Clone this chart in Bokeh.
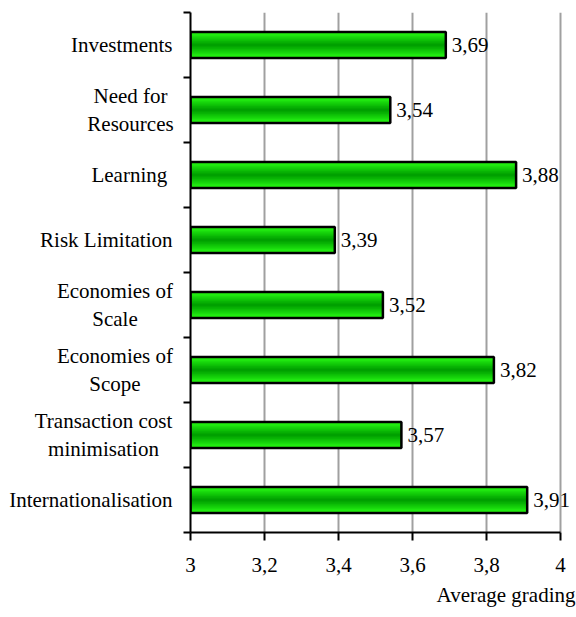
from bokeh.plotting import figure
from bokeh.models import FixedTicker, Label, Range1d, Title
from bokeh.layouts import row
from bokeh.core.properties import value
from bokeh.embed import file_html
from bokeh.resources import INLINE

# data (top to bottom)
categories = [
    "Investments",
    "Need for\nResources",
    "Learning ",
    "Risk Limitation",
    "Economies of\nScale",
    "Economies of\nScope",
    "Transaction cost\nminimisation",
    "Internationalisation",
]
values = [3.69, 3.54, 3.88, 3.39, 3.52, 3.82, 3.57, 3.91]
value_labels = ["3,69", "3,54", "3,88", "3,39", "3,52", "3,82", "3,57", "3,91"]
x_ticks = [3, 3.2, 3.4, 3.6, 3.8, 4]
x_tick_labels = ["3", "3,2", "3,4", "3,6", "3,8", "4"]
x_title = "Average grading"

FONT = "Liberation Serif"
FS = "21px"
n = len(values)
ys = [n - 1 - i + 0.5 for i in range(n)]

H = 617
TOP = 12
BOTTOM = 85
LEFT_W = 183
AXIS_W = 7
PX_PER_UNIT = 370.0

y_range = Range1d(0, n)

# ---------- main chart ----------
main_w = 576 - LEFT_W
frame_w = main_w - AXIS_W - 1
p = figure(width=main_w, height=H, output_backend="svg", toolbar_location=None,
           x_range=Range1d(3, 3 + frame_w / PX_PER_UNIT), y_range=y_range,
           min_border_left=AXIS_W, min_border_right=1, min_border_top=TOP, min_border_bottom=BOTTOM)
p.background_fill_color = "white"
p.border_fill_color = "white"
p.outline_line_color = None

# grid
p.xgrid.ticker = FixedTicker(ticks=x_ticks)
p.xgrid.grid_line_color = "#a0a0a0"
p.xgrid.grid_line_width = 2
p.ygrid.ticker = FixedTicker(ticks=[n])
p.ygrid.bounds = (3, 4)
p.ygrid.grid_line_color = "#a0a0a0"
p.ygrid.grid_line_width = 2

# axes
p.xaxis.ticker = FixedTicker(ticks=x_ticks)
p.xaxis.bounds = (3, 4)
p.xaxis.major_label_overrides = {t: l for t, l in zip(x_ticks, x_tick_labels)}
p.xaxis.axis_line_width = 2
p.xaxis.major_tick_line_width = 2
p.xaxis.major_tick_out = 8
p.xaxis.major_tick_in = 0
p.xaxis.minor_tick_line_color = None
p.xaxis.major_label_text_font = FONT
p.xaxis.major_label_text_font_size = FS
p.xaxis.major_label_text_color = "black"
p.xaxis.major_label_standoff = 17

# y axis: only boundary ticks (as minor ticks), no tick labels
p.yaxis.ticker = FixedTicker(ticks=[], minor_ticks=list(range(n + 1)))
p.yaxis.axis_line_width = 2
p.yaxis.major_tick_line_color = None
p.yaxis.major_tick_out = 0
p.yaxis.major_tick_in = 0
p.yaxis.major_label_standoff = 0
p.yaxis.minor_tick_line_color = "black"
p.yaxis.minor_tick_line_width = 2
p.yaxis.minor_tick_out = 7
p.yaxis.minor_tick_in = 0

# gradient bars: nested strips from light edge to dark centre
steps = 10
h0 = 0.4
for k in range(steps):
    frac = k / (steps - 1)
    g = int(250 - frac * (250 - 160))
    color = "#%02x%02x%02x" % (int(40 * (1 - frac)), g, int(20 * (1 - frac)))
    h = h0 * (1 - k / steps)
    p.hbar(y=ys, left=3, right=values, height=h, fill_color=color, line_color=None)
p.hbar(y=ys, left=3, right=values, height=h0, fill_color=None, line_color="black", line_width=2.5)

# value labels
for y, v, lab in zip(ys, values, value_labels):
    p.add_layout(Label(x=v, y=y, x_offset=6, text=lab, text_font=FONT, text_font_size=FS,
                       text_align="left", text_baseline="middle", text_color="black"))

# axis title at bottom right
t = Title(text=x_title, align="right", text_font=FONT, text_font_size=FS,
          text_font_style="normal", text_color="black", standoff=13, offset=0)
p.add_layout(t, "below")

# ---------- category label column ----------
lf = figure(width=LEFT_W, height=H, output_backend="svg", toolbar_location=None,
            x_range=Range1d(0, LEFT_W), y_range=y_range,
            x_axis_location=None, y_axis_location=None,
            min_border_left=0, min_border_right=0, min_border_top=TOP, min_border_bottom=BOTTOM)
lf.outline_line_color = None
lf.grid.visible = False
lf.background_fill_color = "white"
lf.border_fill_color = "white"

# block centres (px) for two-line labels; single lines are right-aligned
block_center = {1: 130, 4: 114.5, 5: 114.5, 6: 103}
RIGHT_EDGE = 172
LINE_GAP = 28.5 / 65.0

txt_x, txt_y, txt, txt_align = [], [], [], []
for i, (y, c) in enumerate(zip(ys, categories)):
    lines = c.split("\n")
    if len(lines) == 1:
        txt_x.append(RIGHT_EDGE)
        txt_y.append(y)
        txt.append(lines[0])
        txt_align.append("right")
    else:
        for j, line in enumerate(lines):
            txt_x.append(block_center[i])
            txt_y.append(y + (LINE_GAP / 2 if j == 0 else -LINE_GAP / 2))
            txt.append(line)
            txt_align.append("center")

lf.text(x=txt_x, y=txt_y, text=txt, text_align=txt_align, text_baseline="middle",
        text_font=value(FONT), text_font_size=FS, text_color="black")

open("out.html", "w").write(file_html(row(lf, p), INLINE))
